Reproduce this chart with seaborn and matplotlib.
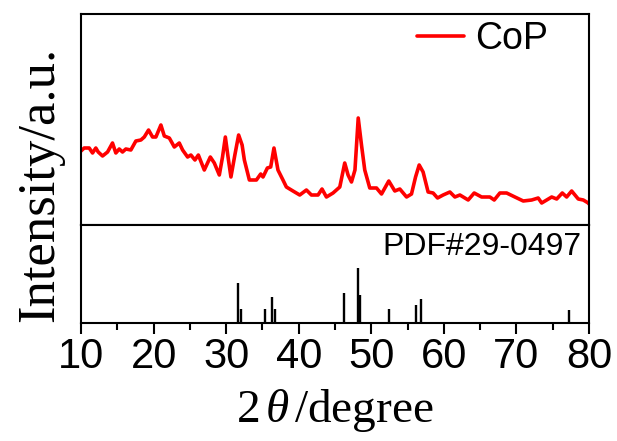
import pandas as pd
import seaborn as sns
import matplotlib.pyplot as plt
from matplotlib.ticker import MultipleLocator

# XRD pattern of CoP (2theta in degrees, intensity in a.u.)
two_theta = [10.0, 10.44, 11.13, 11.59, 12.04, 12.37, 12.97, 13.66, 14.34, 14.80,
             15.27, 15.72, 16.18, 16.87, 17.56, 18.25, 18.72, 19.31, 19.86, 20.32,
             21.01, 21.48, 22.17, 22.86, 23.54, 24.0, 24.69, 25.14, 25.70, 26.17,
             26.99, 27.82, 28.37, 29.06, 29.5, 29.89, 30.3, 30.66, 31.2, 31.72,
             32.2, 32.51, 33.2, 34.17, 34.76, 35.08, 35.68, 36.14, 36.59, 37.14,
             37.83, 38.30, 39.21, 40.14, 41.06, 41.75, 42.66, 43.21, 43.82, 44.73,
             45.66, 46.0, 46.34, 46.8, 47.27, 47.75, 48.2, 48.65, 49.1, 49.79,
             50.72, 51.41, 52.41, 53.24, 53.93, 54.86, 55.54, 56.1, 56.6, 57.14,
             57.83, 58.52, 59.13, 59.90, 60.83, 61.52, 62.21, 63.35, 64.18, 65.2,
             66.34, 66.94, 67.72, 68.65, 69.79, 70.94, 72.1, 73.0, 73.48, 74.86,
             75.55, 76.32, 76.92, 77.61, 78.52, 79.21, 79.9, 80.0]
intensity = [74, 77, 77, 72, 77, 73, 69, 73, 82, 72,
             76, 73, 76, 75, 84, 85, 88, 95, 88, 88,
             100, 89, 87, 78, 82, 75, 68, 70, 65, 70,
             55, 68, 62, 50, 68, 88, 66, 48, 70, 90,
             80, 65, 45, 45, 51, 48, 57, 58, 77, 55,
             45, 38, 34, 30, 35, 30, 30, 36, 28, 32,
             38, 50, 62, 50, 43, 55, 107, 80, 55, 37,
             37, 31, 44, 34, 36, 28, 31, 48, 60, 53,
             33, 32, 27, 30, 33, 28, 30, 25, 32, 28,
             28, 25, 32, 32, 28, 24, 25, 27, 22, 28,
             26, 32, 28, 34, 26, 25, 22, 21]

# reference pattern PDF#29-0497 (stick positions and relative heights)
pdf_pos = [31.63, 32.10, 35.41, 36.32, 36.69, 46.25, 48.18, 48.51, 52.41, 56.10, 56.79, 77.24]
pdf_int = [73, 26, 25, 47, 26, 55, 100, 50, 26, 32, 44, 23]

df = pd.DataFrame({'two_theta': two_theta, 'intensity': intensity})

sns.set_style('ticks')
plt.rcParams['font.family'] = ['Liberation Sans', 'DejaVu Sans']
plt.rcParams['mathtext.fontset'] = 'custom'
plt.rcParams['mathtext.rm'] = 'Liberation Serif'
plt.rcParams['mathtext.it'] = 'Liberation Serif:italic'
plt.rcParams['text.color'] = 'black'
plt.rcParams['xtick.color'] = 'black'
plt.rcParams['xtick.labelcolor'] = 'black'

fig = plt.figure(figsize=(6.17, 4.41), dpi=100)
left, right = 81 / 617, 589 / 617
top, mid, bottom = 1 - 14 / 441, 1 - 225 / 441, 1 - 323 / 441
ax1 = fig.add_axes([left, mid, right - left, top - mid])
ax2 = fig.add_axes([left, bottom, right - left, mid - bottom], sharex=ax1)

sns.lineplot(data=df, x='two_theta', y='intensity', color='#ff0000', lw=2.6,
             label='CoP', ax=ax1)
ax1.set_ylim(0, 211)
ax1.set_xlim(10, 80)
ax1.set_yticks([])
ax1.set_xlabel('')
ax1.set_ylabel('')
ax1.tick_params(axis='x', which='both', bottom=False, labelbottom=False)
ax1.legend(loc='center right', bbox_to_anchor=(548 / 617, 1 - 39 / 441),
           bbox_transform=fig.transFigure, frameon=False, fontsize=27,
           handlelength=1.25, handletextpad=0.3, borderpad=0, borderaxespad=0,
           labelcolor='black')

ax2.vlines(pdf_pos, 0, pdf_int, colors='black', lw=1.7)
ax2.set_ylim(0, 178)
ax2.set_yticks([])
ax2.xaxis.set_major_locator(MultipleLocator(10))
ax2.xaxis.set_minor_locator(MultipleLocator(5))
ax2.tick_params(axis='x', which='major', direction='out', length=8, width=1.5,
                labelsize=30, pad=2, colors='black')
ax2.tick_params(axis='x', which='minor', direction='out', length=5, width=1.5,
                colors='black')
ax2.text(0.985, 0.93, 'PDF#29-0497', transform=ax2.transAxes, ha='right', va='top',
         fontsize=23, color='black')

for a in (ax1, ax2):
    for s in a.spines.values():
        s.set_visible(True)
        s.set_linewidth(1.5)
        s.set_color('black')

fig.text((left + right) / 2, 1 - 410 / 441, r'2$\,\theta\,$/degree', ha='center', va='center',
         fontsize=34, family='Liberation Serif', color='black')
fig.text(40 / 617, 1 - 184 / 441, 'Intensity/a.u.', rotation=90, ha='center', va='center',
         fontsize=38, family='Liberation Serif', color='black')

fig.savefig('out.png', dpi=100)
